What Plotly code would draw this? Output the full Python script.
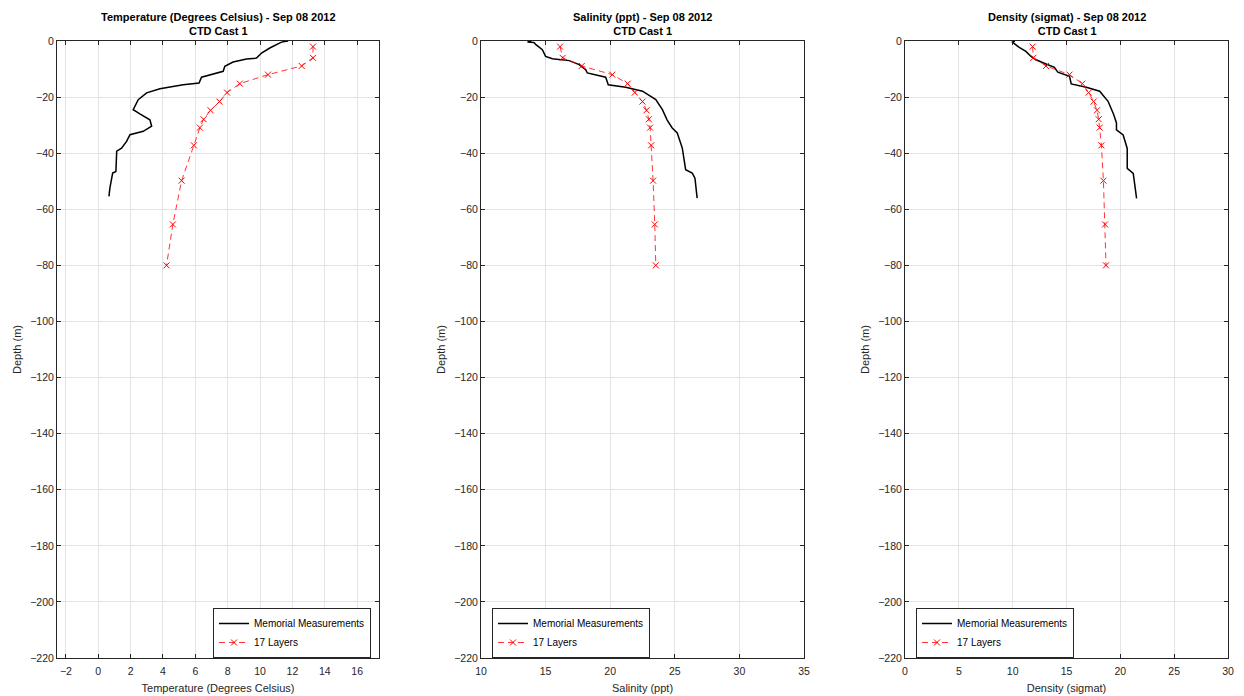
import plotly.graph_objects as go

# ---------------- data ----------------
layer_depth = [-2.0, -6.0, -8.9, -12.0, -15.2, -18.4, -21.6, -24.7, -27.9, -30.9, -37.2, -49.8, -65.4, -80.0]
layer_temp = [13.27, 13.27, 12.57, 10.49, 8.75, 7.96, 7.49, 6.94, 6.51, 6.28, 5.91, 5.15, 4.61, 4.22]
layer_sal = [16.12, 16.32, 17.80, 20.16, 21.35, 21.90, 22.50, 22.81, 22.99, 23.09, 23.17, 23.32, 23.45, 23.53]
layer_dens = [11.85, 11.92, 13.10, 15.28, 16.47, 17.06, 17.52, 17.83, 17.99, 18.08, 18.24, 18.43, 18.58, 18.67]

meas_temp_depth = [0.0, -0.4, -2.5, -4.3, -6.1, -6.4, -7.5, -9.0, -10.8, -11.8, -12.9, -15.0, -15.6, -17.0,
                   -18.5, -20.9, -21.6, -24.5, -26.0, -28.1, -30.4, -32.2, -33.4, -35.8, -38.2, -39.3,
                   -46.5, -47.1, -52.4, -55.4]
meas_temp = [11.73, 11.32, 10.60, 10.09, 9.78, 9.16, 8.33, 7.82, 7.72, 7.10, 6.38, 6.23, 5.25, 3.81,
             2.99, 2.47, 2.40, 2.16, 2.57, 3.19, 3.30, 2.78, 1.96, 1.75, 1.44, 1.14,
             1.09, 0.89, 0.72, 0.66]

meas_sal_depth = [0.0, -0.4, -0.5, -1.3, -3.1, -5.5, -6.3, -7.0, -8.4, -10.2, -11.4, -12.2, -12.9, -15.6,
                  -16.5, -17.9, -20.9, -24.5, -28.1, -31.0, -32.8, -38.2, -45.9, -47.1, -48.9, -56.0]
meas_sal = [13.90, 13.60, 14.10, 14.25, 14.75, 15.00, 15.53, 16.83, 17.60, 18.10, 18.23, 19.13, 19.65, 19.85,
            21.20, 22.50, 23.53, 24.04, 24.40, 24.80, 25.19, 25.58, 25.84, 26.35, 26.56, 26.73]

meas_dens_depth = [0.0, -0.4, -2.3, -3.7, -5.5, -6.7, -8.2, -9.4, -11.1, -12.0, -12.6, -15.3, -16.5, -17.9,
                   -21.5, -26.3, -29.2, -31.7, -33.5, -38.3, -45.4, -47.2, -52.5, -56.1]
meas_dens = [10.20, 9.98, 10.61, 11.23, 11.70, 12.17, 13.10, 13.88, 14.19, 14.97, 15.28, 15.44, 16.84, 18.08,
             18.86, 19.39, 19.64, 19.64, 20.26, 20.64, 20.64, 21.20, 21.36, 21.51]

titles = ["Temperature (Degrees Celsius) - Sep 08 2012", "Salinity (ppt) - Sep 08 2012", "Density (sigmat) - Sep 08 2012"]
subtitle = "CTD Cast 1"
xlabels = ["Temperature (Degrees Celsius)", "Salinity (ppt)", "Density (sigmat)"]
xranges = [[-2.55, 17.35], [10, 35], [0, 30]]
xdticks = [2, 5, 5]
xtick0 = [-2, 10, 0]
yticks = list(range(-220, 1, 20))
legend_names = ["Memorial Measurements", "17 Layers"]

# ---------------- layout geometry ----------------
W, H = 1244, 696
xdom_px = [(57, 379), (481, 804), (905, 1228)]
ytop_px, ybot_px = 41, 658
leg_x_px = [213, 492, 916]
leg_y_px = 608

FONT = "Liberation Sans, Arial, sans-serif"
AX = "#262626"
GRID = "#e3e3e3"

fig = go.Figure()

series = [(meas_temp, meas_temp_depth, layer_temp),
          (meas_sal, meas_sal_depth, layer_sal),
          (meas_dens, meas_dens_depth, layer_dens)]

for i, (mx, my, lx) in enumerate(series):
    sfx = "" if i == 0 else str(i + 1)
    leg = "legend" if i == 0 else "legend" + str(i + 1)
    fig.add_trace(go.Scatter(x=mx, y=my, mode="lines", name=legend_names[0],
                             line=dict(color="black", width=1.5),
                             xaxis="x" + sfx, yaxis="y" + sfx, legend=leg))
    fig.add_trace(go.Scatter(x=lx, y=layer_depth, mode="lines+markers", name=legend_names[1],
                             line=dict(color="#ff0000", width=0.8, dash="6px,4px"),
                             marker=dict(symbol="x-thin-open", size=6,
                                         line=dict(color="#ff0000", width=1)),
                             xaxis="x" + sfx, yaxis="y" + sfx, legend=leg))

layout = dict(
    width=W, height=H,
    margin=dict(l=0, r=0, t=0, b=0),
    paper_bgcolor="white", plot_bgcolor="white",
    font=dict(family=FONT, size=10, color=AX),
    showlegend=True,
)

annotations = []
for i in range(3):
    sfx = "" if i == 0 else str(i + 1)
    x0, x1 = xdom_px[i]
    xd = [x0 / W, x1 / W]
    yd = [1 - ybot_px / H, 1 - ytop_px / H]
    layout["xaxis" + sfx] = dict(
        domain=xd, anchor="y" + sfx, range=xranges[i], tick0=xtick0[i], dtick=xdticks[i],
        showgrid=True, gridcolor=GRID, gridwidth=1, zeroline=False,
        showline=True, linecolor=AX, linewidth=1, mirror="ticks",
        ticks="inside", ticklen=4, tickcolor=AX, tickfont=dict(size=10.5, color=AX),
        ticklabelstandoff=3,
        title=dict(text=xlabels[i], font=dict(size=11, color=AX), standoff=8),
        automargin=False,
    )
    layout["yaxis" + sfx] = dict(
        domain=yd, anchor="x" + sfx, range=[-220, 0], tickvals=yticks,
        showgrid=True, gridcolor=GRID, gridwidth=1, zeroline=False,
        showline=True, linecolor=AX, linewidth=1, mirror="ticks",
        ticks="inside", ticklen=4, tickcolor=AX, tickfont=dict(size=10.5, color=AX),
        title=dict(text="Depth (m)", font=dict(size=11, color=AX), standoff=6),
        automargin=False,
    )
    legkey = "legend" if i == 0 else "legend" + str(i + 1)
    layout[legkey] = dict(
        x=leg_x_px[i] / W, y=1 - leg_y_px / H, xanchor="left", yanchor="top",
        bgcolor="white", bordercolor=AX, borderwidth=1,
        font=dict(size=10, color="black", family=FONT),
        tracegroupgap=0, itemwidth=30,
    )
    annotations.append(dict(
        x=(x0 + x1) / 2 / W, y=1 - (ytop_px - 2) / H, xref="paper", yref="paper",
        xanchor="center", yanchor="bottom", showarrow=False,
        text="<b>" + titles[i] + "</b><br><b>" + subtitle + "</b>",
        font=dict(size=11, color="black", family=FONT),
    ))

layout["annotations"] = annotations
fig.update_layout(**layout)

fig.write_html("out.html")
